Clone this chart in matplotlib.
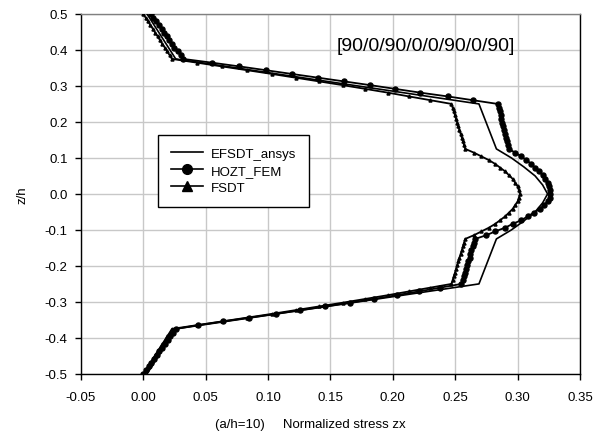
import matplotlib
matplotlib.use("Agg")
import matplotlib.pyplot as plt
from matplotlib.lines import Line2D

plt.rcParams['font.family'] = ['Liberation Sans', 'DejaVu Sans']

# FEM node positions through the thickness (z/h)
z_nodes = [0.5, 0.4896, 0.4792, 0.4688, 0.4583, 0.4479, 0.4375, 0.4271, 0.4167, 0.4063, 0.3958, 0.3854, 0.375,
           0.3646, 0.3542, 0.3438, 0.3333, 0.3229, 0.3125, 0.3021, 0.2917, 0.2813, 0.2708, 0.2604, 0.25,
           0.2396, 0.2292, 0.2188, 0.2083, 0.1979, 0.1875, 0.1771, 0.1667, 0.1563, 0.1458, 0.1354, 0.125,
           0.1146, 0.1042, 0.0938, 0.0833, 0.0729, 0.0625, 0.0521, 0.0417, 0.0313, 0.0208, 0.0104, 0.0,
           -0.0104, -0.0208, -0.0313, -0.0417, -0.0521, -0.0625, -0.0729, -0.0833, -0.0938, -0.1042, -0.1146, -0.125,
           -0.1354, -0.1458, -0.1563, -0.1667, -0.1771, -0.1875, -0.1979, -0.2083, -0.2188, -0.2292, -0.2396, -0.25,
           -0.2604, -0.2708, -0.2813, -0.2917, -0.3021, -0.3125, -0.3229, -0.3333, -0.3438, -0.3542, -0.3646, -0.375,
           -0.3854, -0.3958, -0.4063, -0.4167, -0.4271, -0.4375, -0.4479, -0.4583, -0.4688, -0.4792, -0.4896, -0.5]

hozt_fem = [0.006, 0.008, 0.010, 0.013, 0.015, 0.017, 0.019, 0.021, 0.023, 0.025, 0.028, 0.030, 0.032,
            0.055, 0.077, 0.098, 0.119, 0.140, 0.161, 0.182, 0.202, 0.222, 0.244, 0.264, 0.284,
            0.2848, 0.2855, 0.2863, 0.287, 0.2878, 0.2885, 0.289, 0.290, 0.2908, 0.2915, 0.292, 0.293,
            0.298, 0.303, 0.307, 0.311, 0.314, 0.317, 0.320, 0.322, 0.324, 0.325, 0.326, 0.326,
            0.326, 0.324, 0.321, 0.318, 0.313, 0.308, 0.303, 0.296, 0.290, 0.282, 0.275, 0.266,
            0.265, 0.264, 0.263, 0.262, 0.2615, 0.2605, 0.2595, 0.2585, 0.2575, 0.257, 0.256, 0.255,
            0.238, 0.221, 0.203, 0.185, 0.166, 0.146, 0.126, 0.106, 0.085, 0.064, 0.044, 0.026,
            0.0238, 0.0217, 0.0195, 0.0173, 0.0152, 0.013, 0.0108, 0.0087, 0.0065, 0.0043, 0.0022, 0.0]

fsdt = [0.0, 0.0019, 0.0038, 0.0058, 0.0077, 0.0096, 0.0115, 0.0134, 0.0153, 0.0173, 0.0192, 0.0211, 0.023,
        0.043, 0.063, 0.083, 0.103, 0.122, 0.141, 0.160, 0.178, 0.196, 0.213, 0.230, 0.247,
        0.2479, 0.2488, 0.2498, 0.2507, 0.2516, 0.2525, 0.2534, 0.2543, 0.2553, 0.2562, 0.2571, 0.258,
        0.265, 0.271, 0.277, 0.282, 0.286, 0.290, 0.293, 0.296, 0.298, 0.300, 0.301, 0.302,
        0.301, 0.300, 0.298, 0.296, 0.293, 0.290, 0.286, 0.282, 0.277, 0.271, 0.265, 0.258,
        0.2571, 0.2562, 0.2553, 0.2543, 0.2534, 0.2525, 0.2516, 0.2507, 0.2498, 0.2488, 0.2479, 0.247,
        0.230, 0.213, 0.196, 0.178, 0.160, 0.141, 0.122, 0.103, 0.083, 0.063, 0.043, 0.023,
        0.0211, 0.0192, 0.0173, 0.0153, 0.0134, 0.0115, 0.0096, 0.0077, 0.0058, 0.0038, 0.0019, 0.0]

z_efsdt = [0.5, 0.375, 0.25, 0.125, 0.1, 0.075, 0.05, 0.025, 0.0,
           -0.025, -0.05, -0.075, -0.1, -0.125, -0.25, -0.375, -0.5]
efsdt_ansys = [0.003, 0.026, 0.269, 0.283, 0.295, 0.305, 0.314, 0.320, 0.324,
               0.320, 0.314, 0.305, 0.295, 0.283, 0.269, 0.026, 0.003]

x_ticks = [-0.05, 0.00, 0.05, 0.10, 0.15, 0.20, 0.25, 0.30, 0.35]
y_ticks = [0.5, 0.4, 0.3, 0.2, 0.1, 0.0, -0.1, -0.2, -0.3, -0.4, -0.5]
series_names = ['EFSDT_ansys', 'HOZT_FEM', 'FSDT']
title_text = '[90/0/90/0/0/90/0/90]'

fig = plt.figure(figsize=(6.08, 4.39), dpi=100)
ax = fig.add_axes([0.133, 0.146, 0.821, 0.820])

ax.plot(efsdt_ansys, z_efsdt, color='black', lw=1.2, zorder=3)
ax.plot(fsdt, z_nodes, color='black', lw=1.3, marker='^', markersize=2.2, zorder=4)
ax.plot(hozt_fem, z_nodes, color='black', lw=1.3, marker='o', markersize=3.6, zorder=5)

ax.set_xlim(-0.05, 0.35)
ax.set_ylim(-0.5, 0.5)
ax.set_xticks(x_ticks)
ax.set_xticklabels([f'{v:.2f}' for v in x_ticks])
ax.set_yticks(y_ticks)
ax.set_yticklabels([f'{v:.1f}' for v in y_ticks])
ax.grid(True, color='#c8c8c8', lw=1.0)
ax.set_axisbelow(True)
ax.tick_params(axis='both', labelsize=9.5, direction='out', length=4, width=1, color='black')
ax.tick_params(axis='x', pad=8)
ax.tick_params(axis='y', pad=5.5)
for s in ['left', 'bottom', 'right']:
    ax.spines[s].set_color('black')
    ax.spines[s].set_linewidth(1.0)
ax.spines['top'].set_color('#808080')
ax.spines['top'].set_linewidth(1.0)

ax.text(0.155, 0.412, title_text, fontsize=14, ha='left', va='center')

handles = [Line2D([], [], color='black', lw=1.2),
           Line2D([], [], color='black', lw=1.2, marker='o', markersize=7),
           Line2D([], [], color='black', lw=1.2, marker='^', markersize=7)]
leg = ax.legend(handles, series_names, loc='upper left', bbox_to_anchor=(0.154, 0.665),
                borderaxespad=0, fancybox=False, framealpha=1, edgecolor='black',
                fontsize=9.5, handlelength=2.4, handletextpad=0.6, labelspacing=0.35,
                borderpad=1.0)
leg.get_frame().set_linewidth(1.0)

fig.text(310 / 608, 1 - 425 / 439, '(a/h=10)     Normalized stress zx', fontsize=9.5,
         ha='center', va='center')
fig.text(22 / 608, 1 - 195 / 439, 'z/h', fontsize=9.5, rotation=90, ha='center', va='center')

fig.savefig('out.png', dpi=100)
